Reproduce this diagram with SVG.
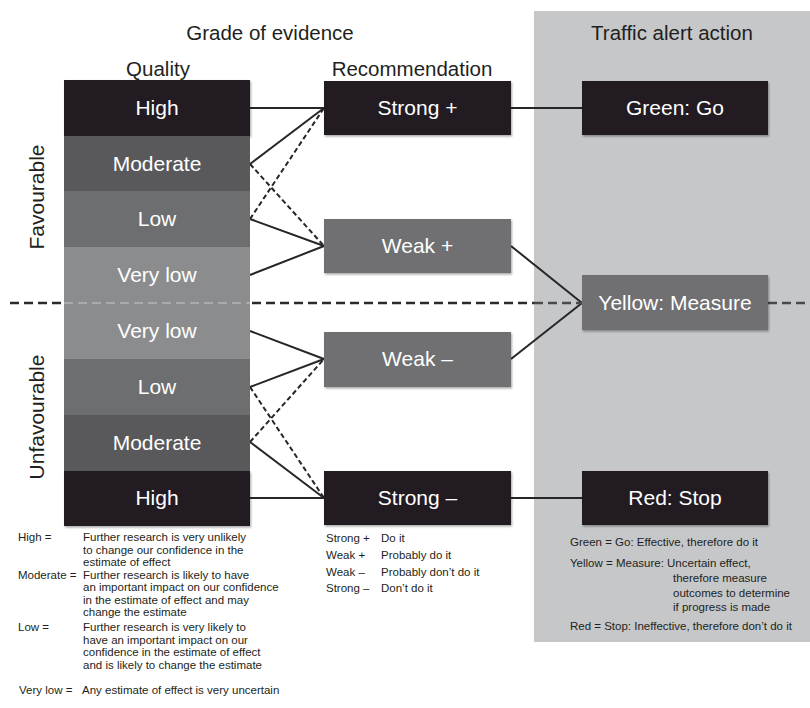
<svg xmlns="http://www.w3.org/2000/svg" width="810" height="708" viewBox="0 0 810 708">
<style>
.hd{font-family:"Liberation Sans",Arial,sans-serif;font-size:20.5px;fill:#231f20;text-anchor:middle}
.vt{font-family:"Liberation Sans",Arial,sans-serif;font-size:21px;fill:#231f20;text-anchor:middle}
.bt{font-family:"Liberation Sans",Arial,sans-serif;font-size:21px;fill:#ffffff;text-anchor:middle}
.lg{font-family:"Liberation Sans",Arial,sans-serif;font-size:11.5px;fill:#231f20}
.k{fill:#231f20}
.mod{fill:#59595b}
.low{fill:#6d6e70}
.vl{fill:#8b8c8e}
.wk{fill:#6f7072}
.c{stroke:#262626;stroke-width:2;fill:none}
.d{stroke:#262626;stroke-width:2;fill:none;stroke-dasharray:5 3}
</style>
<defs>
<filter id="sh" x="-5%" y="-5%" width="112%" height="120%">
<feDropShadow dx="1" dy="1.5" stdDeviation="1" flood-color="#000" flood-opacity="0.35"/>
</filter>
</defs>
<rect x="534" y="11" width="276" height="631" fill="#c6c7c9"/>
<text class="hd" x="270" y="40">Grade of evidence</text>
<text class="hd" x="672" y="40">Traffic alert action</text>
<text class="hd" x="158" y="76">Quality</text>
<text class="hd" x="412" y="76">Recommendation</text>
<text class="vt" transform="translate(44 197) rotate(-90)">Favourable</text>
<text class="vt" transform="translate(44 417) rotate(-90)">Unfavourable</text>
<g id="connectors">
<line class="c" x1="250" y1="108" x2="324" y2="108"/>
<line class="c" x1="250" y1="164" x2="324" y2="108"/>
<line class="d" x1="250" y1="164" x2="324" y2="246"/>
<line class="d" x1="250" y1="219" x2="324" y2="108"/>
<line class="c" x1="250" y1="219" x2="324" y2="246"/>
<line class="c" x1="250" y1="275" x2="324" y2="246"/>
<line class="c" x1="250" y1="331" x2="324" y2="359"/>
<line class="c" x1="250" y1="387" x2="324" y2="359"/>
<line class="d" x1="250" y1="387" x2="324" y2="498"/>
<line class="d" x1="250" y1="442" x2="324" y2="359"/>
<line class="c" x1="250" y1="442" x2="324" y2="498"/>
<line class="c" x1="250" y1="498" x2="324" y2="498"/>
<line class="c" x1="511" y1="108" x2="582" y2="108"/>
<line class="c" x1="511" y1="246" x2="582" y2="303"/>
<line class="c" x1="511" y1="359" x2="582" y2="303"/>
<line class="c" x1="511" y1="498" x2="582" y2="498"/>
</g>
<g id="quality-fav">
<rect class="k" x="64" y="80" width="186" height="56" filter="url(#sh)"/>
<text class="bt" x="157" y="115">High</text>
<rect class="mod" x="64" y="136" width="186" height="55"/>
<text class="bt" x="157" y="171">Moderate</text>
<rect class="low" x="64" y="191" width="186" height="56"/>
<text class="bt" x="157" y="226">Low</text>
<rect class="vl" x="64" y="247" width="186" height="56"/>
<text class="bt" x="157" y="282">Very low</text>
</g>
<g id="quality-unfav">
<rect class="vl" x="64" y="303" width="186" height="56"/>
<text class="bt" x="157" y="338">Very low</text>
<rect class="low" x="64" y="359" width="186" height="56"/>
<text class="bt" x="157" y="394">Low</text>
<rect class="mod" x="64" y="415" width="186" height="56"/>
<text class="bt" x="157" y="450">Moderate</text>
<rect class="k" x="64" y="471" width="186" height="55" filter="url(#sh)"/>
<text class="bt" x="157" y="505">High</text>
</g>
<g id="divider">
<line x1="10" y1="303" x2="64" y2="303" stroke="#2a2a2a" stroke-width="2.5" stroke-dasharray="9 5"/>
<line x1="64" y1="303" x2="250" y2="303" stroke="#a9aaac" stroke-width="2" stroke-dasharray="9 5"/>
<line x1="252" y1="303" x2="534" y2="303" stroke="#2a2a2a" stroke-width="2.5" stroke-dasharray="9 5"/>
<line x1="534" y1="303" x2="582" y2="303" stroke="#4a4a4a" stroke-width="2.5" stroke-dasharray="9 5"/>
<line x1="768" y1="303" x2="810" y2="303" stroke="#4a4a4a" stroke-width="2.5" stroke-dasharray="9 5"/>
</g>
<g id="rec-strong-plus">
<rect class="k" x="324" y="81" width="187" height="54" filter="url(#sh)"/>
<text class="bt" x="417.5" y="115">Strong +</text>
</g>
<g id="rec-weak-plus">
<rect class="wk" x="324" y="219" width="187" height="54" filter="url(#sh)"/>
<text class="bt" x="417.5" y="253">Weak +</text>
</g>
<g id="rec-weak-minus">
<rect class="wk" x="324" y="332" width="187" height="55" filter="url(#sh)"/>
<text class="bt" x="417.5" y="366">Weak –</text>
</g>
<g id="rec-strong-minus">
<rect class="k" x="324" y="471" width="187" height="54" filter="url(#sh)"/>
<text class="bt" x="417.5" y="505">Strong –</text>
</g>
<g id="green-go">
<rect class="k" x="582" y="81" width="186" height="54" filter="url(#sh)"/>
<text class="bt" x="675" y="115">Green: Go</text>
</g>
<g id="yellow-measure">
<rect class="wk" x="582" y="275" width="186" height="55" filter="url(#sh)"/>
<text class="bt" x="675" y="310">Yellow: Measure</text>
</g>
<g id="red-stop">
<rect class="k" x="582" y="471" width="186" height="54" filter="url(#sh)"/>
<text class="bt" x="675" y="505">Red: Stop</text>
</g>
<g id="legend-quality">
<text class="lg" x="18" y="541">High =</text>
<text class="lg" x="83" y="541">Further research is very unlikely</text>
<text class="lg" x="83" y="553.5">to change our confidence in the</text>
<text class="lg" x="83" y="566">estimate of effect</text>
<text class="lg" x="18" y="578.5">Moderate =</text>
<text class="lg" x="83" y="578.5">Further research is likely to have</text>
<text class="lg" x="83" y="591">an important impact on our confidence</text>
<text class="lg" x="83" y="603.5">in the estimate of effect and may</text>
<text class="lg" x="83" y="616">change the estimate</text>
<text class="lg" x="18" y="631">Low =</text>
<text class="lg" x="83" y="631">Further research is very likely to</text>
<text class="lg" x="83" y="643.5">have an important impact on our</text>
<text class="lg" x="83" y="656">confidence in the estimate of effect</text>
<text class="lg" x="83" y="668.5">and is likely to change the estimate</text>
<text class="lg" x="19" y="694">Very low =</text>
<text class="lg" x="82" y="694">Any estimate of effect is very uncertain</text>
</g>
<g id="legend-rec">
<text class="lg" x="326" y="542">Strong +</text>
<text class="lg" x="381" y="542">Do it</text>
<text class="lg" x="326" y="559">Weak +</text>
<text class="lg" x="381" y="559">Probably do it</text>
<text class="lg" x="326" y="576">Weak –</text>
<text class="lg" x="381" y="576">Probably don’t do it</text>
<text class="lg" x="326" y="592">Strong –</text>
<text class="lg" x="381" y="592">Don’t do it</text>
</g>
<g id="legend-traffic">
<text class="lg" x="570" y="546">Green = Go: Effective, therefore do it</text>
<text class="lg" x="570" y="567">Yellow = Measure: Uncertain effect,</text>
<text class="lg" x="673" y="582">therefore measure</text>
<text class="lg" x="673" y="597">outcomes to determine</text>
<text class="lg" x="673" y="611">if progress is made</text>
<text class="lg" x="570" y="630">Red = Stop: Ineffective, therefore don’t do it</text>
</g>
</svg>
